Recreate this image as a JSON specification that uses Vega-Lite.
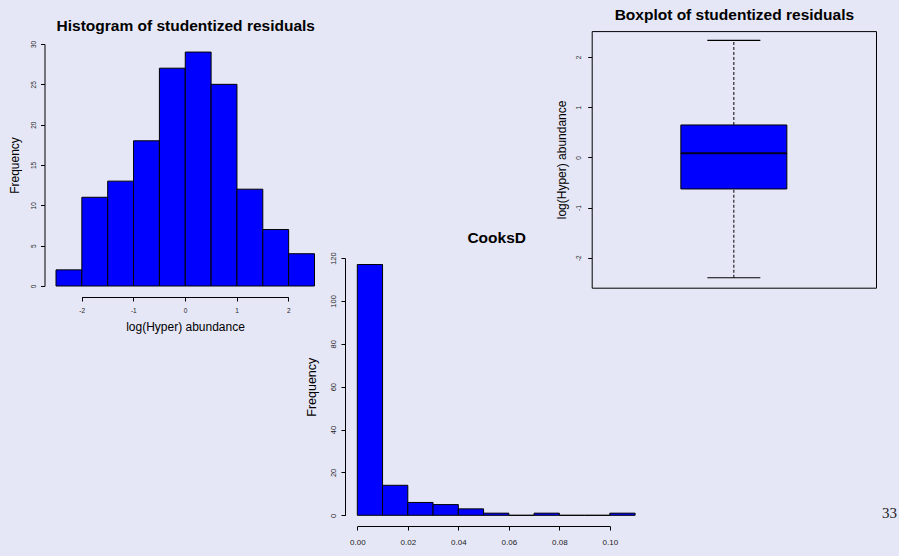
{
  "$schema": "https://vega.github.io/schema/vega-lite/v6.json",
  "width": 899,
  "height": 556,
  "autosize": "none",
  "padding": 0,
  "background": "#e6e7f6",
  "title": {"text": "33", "orient": "bottom", "anchor": "end", "frame": "group", "font": "Liberation Serif", "fontSize": 15, "fontWeight": "normal", "color": "#222222", "baseline": "alphabetic", "offset": -38, "dx": -2},
  "config": {
    "font": "Liberation Sans",
    "view": {"stroke": null},
    "axis": {"grid": false, "domainColor": "#000000", "tickColor": "#000000", "labelColor": "#1a1a1a", "titleColor": "#000000", "labelFont": "Liberation Sans", "titleFont": "Liberation Sans", "titleFontWeight": "normal", "labelOverlap": false, "labelFlush": false, "labelBound": false, "tickSize": 4, "domainWidth": 1, "tickWidth": 1}
  },
  "datasets": {
    "resid": [
      {"start": -2.5, "end": -2.0, "count": 2},
      {"start": -2.0, "end": -1.5, "count": 11},
      {"start": -1.5, "end": -1.0, "count": 13},
      {"start": -1.0, "end": -0.5, "count": 18},
      {"start": -0.5, "end": 0.0, "count": 27},
      {"start": 0.0, "end": 0.5, "count": 29},
      {"start": 0.5, "end": 1.0, "count": 25},
      {"start": 1.0, "end": 1.5, "count": 12},
      {"start": 1.5, "end": 2.0, "count": 7},
      {"start": 2.0, "end": 2.5, "count": 4}
    ],
    "cooks": [
      {"start": 0.00, "end": 0.01, "count": 117},
      {"start": 0.01, "end": 0.02, "count": 14},
      {"start": 0.02, "end": 0.03, "count": 6},
      {"start": 0.03, "end": 0.04, "count": 5},
      {"start": 0.04, "end": 0.05, "count": 3},
      {"start": 0.05, "end": 0.06, "count": 1},
      {"start": 0.06, "end": 0.07, "count": 0},
      {"start": 0.07, "end": 0.08, "count": 1},
      {"start": 0.08, "end": 0.09, "count": 0},
      {"start": 0.09, "end": 0.10, "count": 0},
      {"start": 0.10, "end": 0.11, "count": 1}
    ],
    "box": [
      {"group": "residuals", "min": -2.40, "q1": -0.63, "median": 0.08, "q3": 0.645, "max": 2.33}
    ]
  },
  "resolve": {"scale": {"x": "independent", "y": "independent"}, "axis": {"x": "independent", "y": "independent"}},
  "layer": [
    {
      "data": {"name": "resid"},
      "mark": {"type": "rect", "fill": "#0000ff", "stroke": "#000000", "strokeWidth": 1},
      "encoding": {
        "x": {"field": "start", "type": "quantitative",
          "scale": {"domain": [-2.5, 2.5], "range": [56, 314.5], "nice": false, "zero": false},
          "axis": {"orient": "top", "offset": -33, "domain": true, "domainOpacity": 0, "ticks": false, "labels": false, "title": "Histogram of studentized residuals", "titleFontSize": 15.5, "titleFontWeight": "bold", "titleBaseline": "alphabetic", "titlePadding": 2.5}},
        "x2": {"field": "end"},
        "y": {"field": "count", "type": "quantitative",
          "scale": {"domain": [0, 30], "range": [286, 44], "nice": false, "zero": true},
          "axis": {"orient": "left", "offset": -44.5, "values": [0, 5, 10, 15, 20, 25, 30], "labelAngle": -90, "labelAlign": "center", "labelBaseline": "bottom", "labelFontSize": 6.5, "labelPadding": 4, "title": "Frequency", "titleFontSize": 12, "titlePadding": 9}},
        "y2": {"datum": 0}
      }
    },
    {
      "data": {"name": "resid"},
      "mark": {"type": "point", "opacity": 0},
      "encoding": {
        "x": {"field": "start", "type": "quantitative",
          "scale": {"domain": [-2, 2], "range": [81.7, 288.3], "nice": false, "zero": false},
          "axis": {"orient": "bottom", "offset": -259, "values": [-2, -1, 0, 1, 2], "labelExpr": "'' + datum.value", "labelFontSize": 6.5, "labelPadding": 6, "title": "log(Hyper) abundance", "titleFontSize": 12, "titlePadding": 8}}
      }
    },
    {
      "data": {"name": "cooks"},
      "mark": {"type": "rect", "fill": "#0000ff", "stroke": "#000000", "strokeWidth": 1},
      "encoding": {
        "x": {"field": "start", "type": "quantitative",
          "scale": {"domain": [0, 0.11], "range": [357.3, 635.1], "nice": false, "zero": false},
          "axis": {"orient": "top", "offset": -246, "domain": true, "domainOpacity": 0, "ticks": false, "labels": false, "title": "CooksD", "titleFontSize": 15.5, "titleFontWeight": "bold", "titleBaseline": "alphabetic", "titlePadding": 3.7}},
        "x2": {"field": "end"},
        "y": {"field": "count", "type": "quantitative",
          "scale": {"domain": [0, 120], "range": [515.3, 258.1], "nice": false, "zero": true},
          "axis": {"orient": "left", "offset": -345, "values": [0, 20, 40, 60, 80, 100, 120], "labelAngle": -90, "labelAlign": "center", "labelBaseline": "bottom", "labelFontSize": 7.5, "labelPadding": 3.5, "title": "Frequency", "titleFontSize": 12.5, "titlePadding": 11}},
        "y2": {"datum": 0}
      }
    },
    {
      "data": {"name": "cooks"},
      "mark": {"type": "point", "opacity": 0},
      "encoding": {
        "x": {"field": "start", "type": "quantitative",
          "scale": {"domain": [0, 0.1], "range": [357.3, 609.8], "nice": false, "zero": false},
          "axis": {"orient": "bottom", "offset": -30, "values": [0, 0.02, 0.04, 0.06, 0.08, 0.1], "format": ".2f", "labelFontSize": 8, "labelPadding": 8, "title": null}}
      }
    },
    {
      "data": {"name": "box"},
      "encoding": {
        "x": {"field": "group", "type": "nominal", "title": "Boxplot of studentized residuals",
          "scale": {"type": "band", "domain": ["residuals"], "range": [591.7, 876], "paddingInner": 0, "paddingOuter": 0.841},
          "axis": {"orient": "top", "offset": -31.1, "domain": true, "ticks": false, "labels": false, "titleFontSize": 15.5, "titleFontWeight": "bold", "titleBaseline": "alphabetic", "titlePadding": 12}}
      },
      "layer": [
        {
          "mark": {"type": "rule", "stroke": "#000000", "strokeWidth": 1, "strokeDash": [3, 2]},
          "encoding": {
            "y": {"field": "q3", "type": "quantitative", "title": "log(Hyper) abundance",
              "scale": {"domain": [-2.598, 2.516], "range": [287.7, 31.1], "nice": false, "zero": false},
              "axis": {"orient": "left", "offset": -591.7, "values": [-2, -1, 0, 1, 2], "labelExpr": "'' + datum.value", "labelAngle": -90, "labelAlign": "center", "labelBaseline": "bottom", "labelFontSize": 6.5, "labelPadding": 6.5, "titleFontSize": 12, "titlePadding": 7}},
            "y2": {"field": "max"}
          }
        },
        {
          "mark": {"type": "rule", "stroke": "#000000", "strokeWidth": 1, "strokeDash": [3, 2]},
          "encoding": {
            "y": {"field": "min", "type": "quantitative", "title": "log(Hyper) abundance"},
            "y2": {"field": "q1"}
          }
        },
        {
          "mark": {"type": "bar", "fill": "#0000ff", "stroke": "#000000", "strokeWidth": 1},
          "encoding": {
            "y": {"field": "q1", "type": "quantitative", "title": "log(Hyper) abundance"},
            "y2": {"field": "q3"}
          }
        },
        {
          "mark": {"type": "tick", "color": "#000022", "size": 106, "thickness": 2, "opacity": 1},
          "encoding": {
            "y": {"field": "median", "type": "quantitative", "title": "log(Hyper) abundance"}
          }
        },
        {
          "mark": {"type": "tick", "color": "#000000", "size": 53, "thickness": 1.2, "opacity": 1},
          "encoding": {
            "y": {"field": "max", "type": "quantitative", "title": "log(Hyper) abundance"}
          }
        },
        {
          "mark": {"type": "tick", "color": "#000000", "size": 53, "thickness": 1.2, "opacity": 1},
          "encoding": {
            "y": {"field": "min", "type": "quantitative", "title": "log(Hyper) abundance"}
          }
        }
      ]
    },
    {
      "data": {"name": "box"},
      "mark": {"type": "point", "opacity": 0},
      "encoding": {
        "x": {"field": "group", "type": "nominal",
          "scale": {"type": "band", "domain": ["residuals"], "range": [591.7, 876], "paddingInner": 0, "paddingOuter": 0.841},
          "axis": {"orient": "bottom", "offset": -268.3, "domain": true, "ticks": false, "labels": false, "title": null}},
        "y": {"field": "median", "type": "quantitative",
          "scale": {"domain": [-2.598, 2.516], "range": [287.7, 31.1], "nice": false, "zero": false},
          "axis": {"orient": "right", "offset": -23, "domain": true, "ticks": false, "labels": false, "title": null}}
      }
    }
  ]
}
